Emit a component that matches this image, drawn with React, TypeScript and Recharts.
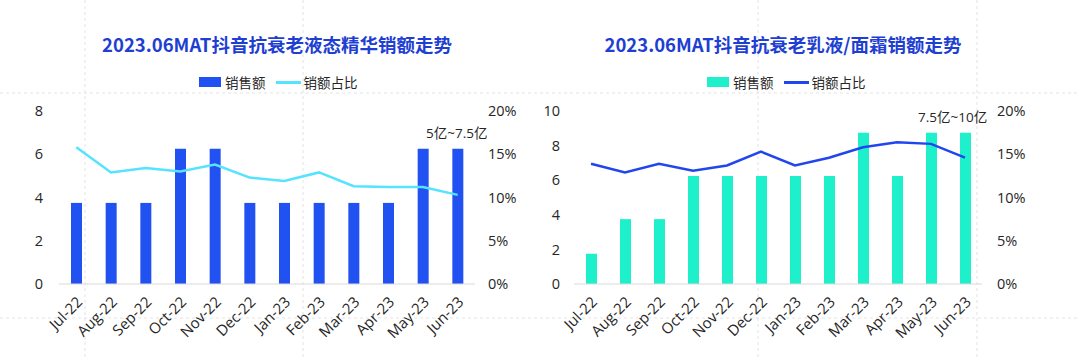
import React from "react";
import { ComposedChart, Bar, Line, XAxis, YAxis } from "recharts";

const months = ["Jul-22", "Aug-22", "Sep-22", "Oct-22", "Nov-22", "Dec-22", "Jan-23", "Feb-23", "Mar-23", "Apr-23", "May-23", "Jun-23"];

// Left panel: 抗衰老液态精华
const serumSales = [3.75, 3.75, 3.75, 6.25, 6.25, 3.75, 3.75, 3.75, 3.75, 3.75, 6.25, 6.25];
const serumShare = [15.8, 12.9, 13.4, 13.0, 13.8, 12.3, 11.9, 12.9, 11.3, 11.2, 11.2, 10.3];
const serumLeftTicks = [0, 2, 4, 6, 8];

// Right panel: 抗衰老乳液/面霜
const creamSales = [1.75, 3.75, 3.75, 6.25, 6.25, 6.25, 6.25, 6.25, 8.75, 6.25, 8.75, 8.75];
const creamShare = [13.9, 12.9, 13.9, 13.1, 13.7, 15.3, 13.7, 14.6, 15.8, 16.4, 16.2, 14.6];
const creamLeftTicks = [0, 2, 4, 6, 8, 10];

const pctTicks = [0, 5, 10, 15, 20];

const FONT = "'Open Sans', 'Noto Sans CJK SC', sans-serif";
const CJK = "'Noto Sans CJK SC', 'Open Sans', sans-serif";
const TEXT = "#262626";

const serumData = months.map((m, i) => ({ month: m, sales: serumSales[i], share: serumShare[i] }));
const creamData = months.map((m, i) => ({ month: m, sales: creamSales[i], share: creamShare[i] }));

const XTick = (props: any) => {
  const { x, y, payload } = props;
  const tx = x + 7;
  const ty = y + 11;
  return (
    <text x={tx} y={ty} textAnchor="end" fontSize={15} fontFamily={FONT} fill={TEXT} transform={`rotate(-45, ${tx}, ${ty})`}>
      {payload.value}
    </text>
  );
};

type PanelProps = {
  title: string;
  titleCenter: number;
  data: any[];
  barColor: string;
  lineColor: string;
  leftTicks: number[];
  leftMax: number;
  leftWidth: number;
  rightWidth: number;
  leftTickMargin: number;
  rightTickMargin: number;
  legendLeft: number;
  note: string;
  noteLeft: number;
  noteTop: number;
};

const Panel = (p: PanelProps) => (
  <div style={{ position: "relative", width: 540, height: 357 }}>
    <div
      style={{
        position: "absolute",
        left: p.titleCenter - 270,
        top: 31,
        width: 540,
        textAlign: "center",
        fontFamily: CJK,
        fontWeight: 700,
        fontSize: 18.5,
        color: "#1e3fd2",
        lineHeight: "26px",
        whiteSpace: "nowrap",
      }}
    >
      {p.title}
    </div>
    <div
      style={{
        position: "absolute",
        left: p.legendLeft,
        top: 73,
        height: 18,
        display: "flex",
        alignItems: "center",
        fontFamily: CJK,
        fontSize: 13.5,
        color: TEXT,
        whiteSpace: "nowrap",
      }}
    >
      <span style={{ display: "inline-block", width: 22, height: 10, background: p.barColor, marginRight: 4 }} />
      <span>销售额</span>
      <span style={{ display: "inline-block", width: 25, height: 3, background: p.lineColor, marginLeft: 10, marginRight: 3 }} />
      <span>销额占比</span>
    </div>
    <div
      style={{
        position: "absolute",
        left: p.noteLeft,
        top: p.noteTop,
        fontFamily: FONT,
        fontSize: 13.5,
        color: TEXT,
        lineHeight: "18px",
        whiteSpace: "nowrap",
      }}
    >
      {p.note}
    </div>
    <ComposedChart width={540} height={357} data={p.data} margin={{ top: 111, right: 0, bottom: 0, left: 0 }} style={{ position: "absolute", left: 0, top: 0 }}>
      <XAxis
        dataKey="month"
        xAxisId="x"
        axisLine={{ stroke: "#d9d9d9" }}
        tickLine={false}
        height={73}
        interval={0}
        tick={<XTick />}
      />
      <YAxis
        yAxisId="left"
        orientation="left"
        domain={[0, p.leftMax]}
        ticks={p.leftTicks}
        width={p.leftWidth}
        axisLine={false}
        tickLine={false}
        tickSize={0}
        tickMargin={p.leftTickMargin}
        tick={{ fontSize: 14.5, fontFamily: FONT, fill: TEXT }}
      />
      <YAxis
        yAxisId="right"
        orientation="right"
        domain={[0, 20]}
        ticks={pctTicks}
        width={p.rightWidth}
        axisLine={false}
        tickLine={false}
        tickSize={0}
        tickMargin={p.rightTickMargin}
        tickFormatter={(v: number) => `${v}%`}
        tick={{ fontSize: 14.5, fontFamily: FONT, fill: TEXT, textAnchor: "start" }}
      />
      <Bar dataKey="sales" xAxisId="x" yAxisId="left" fill={p.barColor} barSize={11} isAnimationActive={false} />
      <Line dataKey="share" xAxisId="x" yAxisId="right" stroke={p.lineColor} strokeWidth={2.5} dot={false} type="linear" isAnimationActive={false} />
    </ComposedChart>
  </div>
);

const Background = () => (
  <svg width={1080} height={357} style={{ position: "absolute", left: 0, top: 0 }}>
    {[85, 303, 758, 977].map((x) => (
      <line key={`v${x}`} x1={x} y1={0} x2={x} y2={357} stroke="#e3e3e3" strokeDasharray="3 3" strokeWidth={1} />
    ))}
    {[93, 318].map((y) => (
      <line key={`h${y}`} x1={0} y1={y} x2={1080} y2={y} stroke="#e3e3e3" strokeDasharray="3 3" strokeWidth={1} />
    ))}
  </svg>
);

export default function App() {
  return (
    <div style={{ position: "absolute", left: 0, top: 0, width: 1080, height: 357, background: "#ffffff", overflow: "hidden" }}>
      <Background />
      <div style={{ position: "absolute", left: 0, top: 0, display: "flex" }}>
        <Panel
          title="2023.06MAT抖音抗衰老液态精华销额走势"
          titleCenter={277}
          data={serumData}
          barColor="#2251f2"
          lineColor="#55e3ff"
          leftTicks={serumLeftTicks}
          leftMax={8}
          leftWidth={59}
          rightWidth={65}
          leftTickMargin={16}
          rightTickMargin={13}
          legendLeft={199}
          note="5亿~7.5亿"
          noteLeft={426}
          noteTop={124}
        />
        <Panel
          title="2023.06MAT抖音抗衰老乳液/面霜销额走势"
          titleCenter={243}
          data={creamData}
          barColor="#1ff0cc"
          lineColor="#2246ee"
          leftTicks={creamLeftTicks}
          leftMax={10}
          leftWidth={34}
          rightWidth={98}
          leftTickMargin={14}
          rightTickMargin={15}
          legendLeft={167}
          note="7.5亿~10亿"
          noteLeft={378}
          noteTop={108}
        />
      </div>
    </div>
  );
}
